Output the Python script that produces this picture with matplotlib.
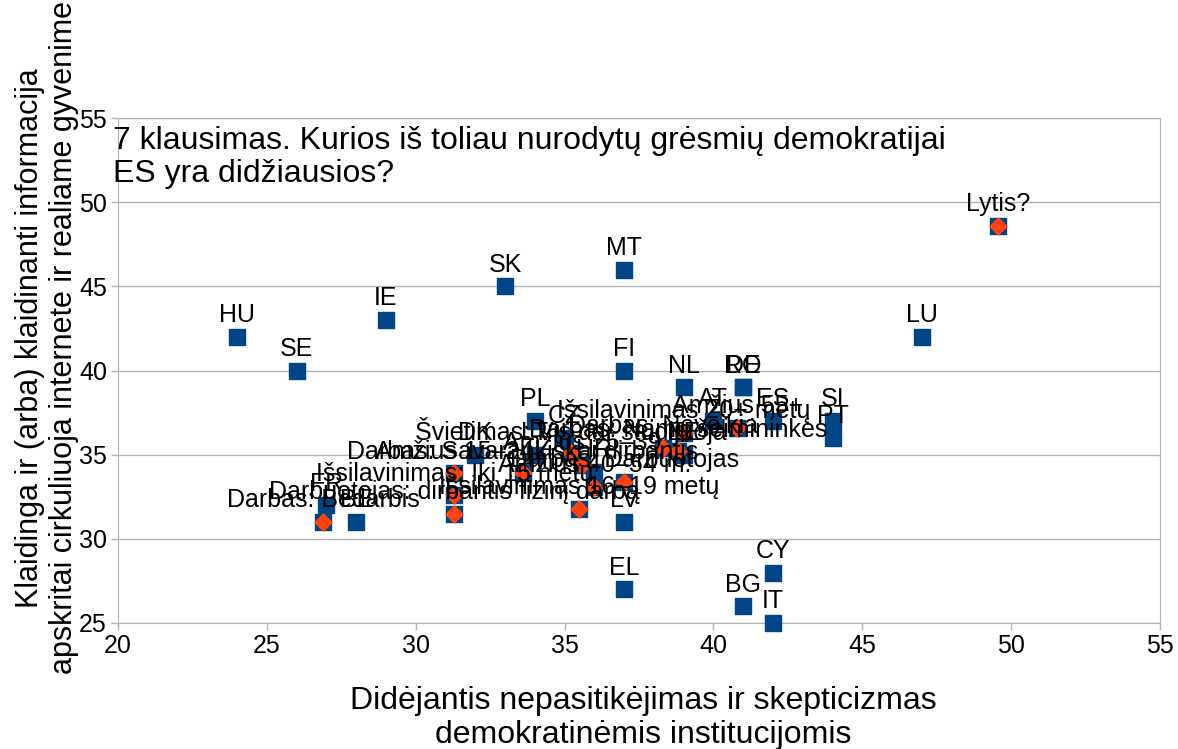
import matplotlib
matplotlib.use('Agg')
import matplotlib.pyplot as plt

plt.rcParams.update({
    'font.family': ['Liberation Sans', 'DejaVu Sans'],
    'font.size': 18,
})

BLUE = '#004586'
ORANGE = '#ff420e'
GRID = '#b3b3b3'

# countries (blue squares)
countries = ['HU', 'SE', 'IE', 'SK', 'MT', 'FI', 'NL', 'RO', 'DE', 'LU', 'AT', 'ES', 'SI', 'PT',
             'PL', 'CZ', 'LT', 'DK', 'FR', 'BE', 'EL', 'BG', 'CY', 'IT', 'EE', 'HR', 'LV']
country_x = [24, 26, 29, 33, 37, 37, 39, 41, 41, 47, 40, 42, 44, 44,
             34, 35, 34, 32, 27, 28, 37, 41, 42, 42, 39, 36, 37]
country_y = [42, 40, 43, 45, 46, 40, 39, 39, 39, 42, 37, 37, 37, 36,
             37, 36, 35, 35, 32, 31, 27, 26, 28, 25, 35, 34, 31]

# socio-demographic groups (orange diamonds)
groups = ['Lytis?', 'Darbas: Bedarbis', 'Amžius 15–24', 'Išsilavinimas: Iki 15 metų',
          'Darbuotojas: dirbantis fizinį darbą', 'Darbas: Savarankiškai dirbantis',
          'Švietimas: Vis dar studijuoja', 'Darbas: Neveikia', 'Išsilavinimas 20+ metų',
          'Amžius 55+', 'Darbas: Namų šeimininkės', 'Amžius 25–39', 'Darbas: Darbuotojas',
          'Amžius 40–54 m.', 'Išsilavinimas 16–19 metų']
group_x = [49.55, 26.9, 31.3, 31.3, 31.3, 33.6, 35.2, 38.3, 39.0, 40.8, 38.8, 35.6, 37.0, 36.0, 35.5]
group_y = [48.6, 31.0, 33.9, 32.6, 31.5, 33.9, 35.1, 35.4, 36.3, 36.6, 35.2, 34.4, 33.4, 33.1, 31.8]

fig = plt.figure(figsize=(11.78, 7.49), dpi=100)
ax = fig.add_axes([118 / 1178, 1 - 623 / 749, 1042 / 1178, 505 / 749])

ax.set_xlim(20, 55)
ax.set_ylim(25, 55)
ax.set_xticks(range(20, 56, 5))
ax.set_yticks(range(25, 56, 5))
ax.yaxis.grid(True, color=GRID, linewidth=1)
ax.set_axisbelow(True)
for s in ax.spines.values():
    s.set_color(GRID)
ax.tick_params(colors=GRID, labelcolor='black', labelsize=18, length=5, width=1, pad=3)

ax.scatter(country_x, country_y, marker='s', s=130, color=BLUE, zorder=3, clip_on=False)
ax.scatter(group_x, group_y, marker='s', s=130, color=BLUE, zorder=3, clip_on=False)
ax.scatter(group_x, group_y, marker='D', s=75, color=ORANGE, zorder=4, clip_on=False)

for lab, x, y in zip(countries, country_x, country_y):
    ax.annotate(lab, (x, y), xytext=(0, 15.5), textcoords='offset points',
                ha='center', va='center', fontsize=18, zorder=5)
for lab, x, y in zip(groups, group_x, group_y):
    ax.annotate(lab, (x, y), xytext=(0, 15.5), textcoords='offset points',
                ha='center', va='center', fontsize=18, zorder=5)

ax.text(-0.005, 0.985, '7 klausimas. Kurios iš toliau nurodytų grėsmių demokratijai\nES yra didžiausios?',
        transform=ax.transAxes, ha='left', va='top', fontsize=23, linespacing=1.15)

fig.text(643 / 1178, 1 - 718 / 749,
         'Didėjantis nepasitikėjimas ir skepticizmas\ndemokratinėmis institucijomis',
         ha='center', va='center', fontsize=23, linespacing=1.15)
fig.text(47 / 1178, 1 - 338 / 749,
         'Klaidinga ir (arba) klaidinanti informacija\napskritai cirkuliuoja internete ir realiame gyvenime',
         ha='center', va='center', rotation=90, fontsize=22, linespacing=1.2)

fig.savefig('out.png', dpi=100)
